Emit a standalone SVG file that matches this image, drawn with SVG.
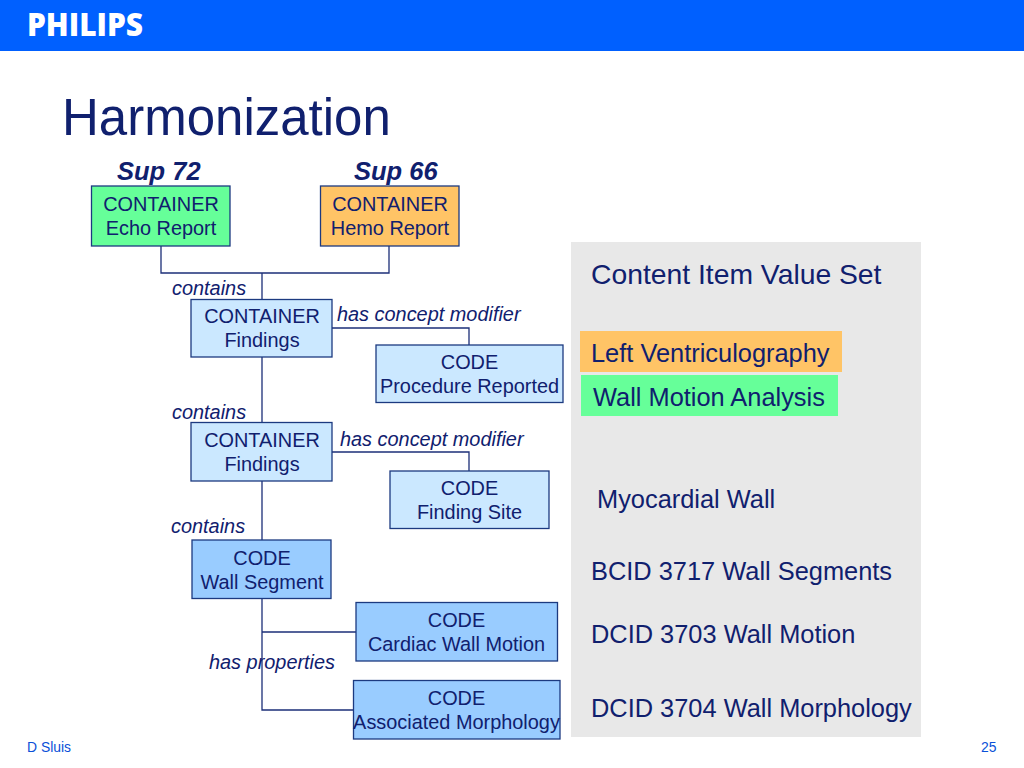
<svg xmlns="http://www.w3.org/2000/svg" width="1024" height="768" viewBox="0 0 1024 768">
<style>
text{font-family:"Liberation Sans",Arial,sans-serif;fill:#10206e}
.n{font-size:19.9px;text-anchor:middle}
.l{font-size:19.9px;font-style:italic}
.s{font-size:25.5px;font-style:italic;font-weight:bold}
.v{font-size:25.4px}
.f{font-size:13.9px;fill:#0a50d8}
.b{stroke:#1c3a80;stroke-width:1.3}
.g{fill:#66ff99}.o{fill:#ffc466}.p{fill:#cbe8ff}.d{fill:#99ccff}
#connectors path{fill:none;stroke:#1c2f78;stroke-width:1.3}
</style>
<rect width="1024" height="768" fill="#fff"/>
<rect width="1024" height="51" fill="#0060ff"/>
<text x="27" y="36" style="font-family:'Open Sans',sans-serif;font-weight:800;font-size:31.5px;fill:#fff" textLength="116" lengthAdjust="spacingAndGlyphs">PHILIPS</text>
<text x="62" y="135" style="font-size:51px">Harmonization</text>
<rect x="571" y="242" width="350" height="495" fill="#e8e8e8"/>
<rect x="580" y="331" width="262" height="41" class="o"/>
<rect x="581" y="375" width="257" height="41" class="g"/>
<g id="connectors">
<path d="M161 246V273H389V246M262 273V299M262 357V422M262 481V540M262 598V710H353M262 632H356M332 328H469V345M332 452H469V471"/>
</g>
<g id="echo"><rect x="91.500" y="186" width="138.500" height="60" class="b g"/><text x="161" y="211" class="n">CONTAINER</text><text x="161" y="235" class="n">Echo Report</text></g>
<g id="hemo"><rect x="320.500" y="186" width="138.500" height="60" class="b o"/><text x="390" y="211" class="n">CONTAINER</text><text x="390" y="235" class="n">Hemo Report</text></g>
<g id="findings1"><rect x="191" y="299.500" width="141" height="57.500" class="b p"/><text x="262" y="323" class="n">CONTAINER</text><text x="262" y="347" class="n">Findings</text></g>
<g id="procedure"><rect x="376" y="345" width="187" height="57.500" class="b p"/><text x="469.500" y="369" class="n">CODE</text><text x="469.500" y="393" class="n">Procedure Reported</text></g>
<g id="findings2"><rect x="191" y="422.500" width="141" height="58.500" class="b p"/><text x="262" y="447" class="n">CONTAINER</text><text x="262" y="471" class="n">Findings</text></g>
<g id="site"><rect x="390" y="471" width="159" height="57.500" class="b p"/><text x="469.500" y="495" class="n">CODE</text><text x="469.500" y="519" class="n">Finding Site</text></g>
<g id="wallsegment"><rect x="192" y="540" width="139" height="58.500" class="b d"/><text x="262" y="565" class="n">CODE</text><text x="262" y="589" class="n">Wall Segment</text></g>
<g id="cardiac"><rect x="356" y="602.500" width="201.500" height="58.500" class="b d"/><text x="456.500" y="627" class="n">CODE</text><text x="456.500" y="651" class="n">Cardiac Wall Motion</text></g>
<g id="morphology"><rect x="353.500" y="680.500" width="206.500" height="58.500" class="b d"/><text x="456.500" y="705" class="n">CODE</text><text x="456.500" y="729" class="n">Associated Morphology</text></g>
<text x="117" y="180" class="s">Sup 72</text>
<text x="354" y="180" class="s">Sup 66</text>
<text x="172" y="295" class="l">contains</text>
<text x="172" y="419" class="l">contains</text>
<text x="171" y="533" class="l">contains</text>
<text x="337" y="321" class="l">has concept modifier</text>
<text x="340" y="446" class="l">has concept modifier</text>
<text x="209" y="669" class="l">has properties</text>
<text x="591" y="284" style="font-size:28.3px">Content Item Value Set</text>
<text x="591" y="362" class="v">Left Ventriculography</text>
<text x="593" y="406" class="v">Wall Motion Analysis</text>
<text x="597" y="508" class="v">Myocardial Wall</text>
<text x="591" y="580" class="v">BCID 3717 Wall Segments</text>
<text x="591" y="643" class="v">DCID 3703 Wall Motion</text>
<text x="591" y="717" class="v">DCID 3704 Wall Morphology</text>
<text x="27" y="752" class="f">D Sluis</text>
<text x="981" y="752" class="f">25</text>
</svg>
